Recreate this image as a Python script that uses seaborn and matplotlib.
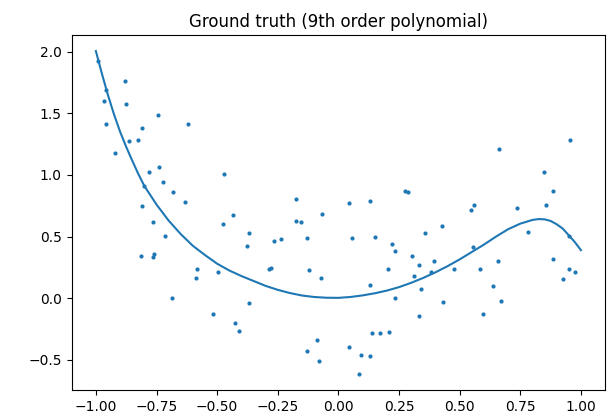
import numpy as np
import pandas as pd
import matplotlib
matplotlib.use("Agg")
import matplotlib.pyplot as plt
import seaborn as sns

# noisy samples
x_pts = [-0.992, -0.879, -0.960, -0.965, -0.874, -0.743, -0.960, -0.621, -0.809, -0.862,
         -0.827, -0.922, -0.780, -0.738, -0.472, -0.800, -0.723, -0.681, -0.634, -0.809,
         -0.766, -0.435, -0.474, -0.713, -0.368, -0.375, -0.813, -0.766, -0.762, -0.582,
         -0.586, -0.497, -0.686, -0.516, -0.426, -0.410, -0.368, 0.276, 0.287, -0.175,
         0.042, 0.132, -0.067, -0.175, -0.155, -0.265, -0.236, -0.128, 0.057, 0.150,
         0.221, 0.232, 0.302, 0.331, -0.285, -0.276, -0.123, -0.071, 0.204, 0.312,
         0.132, 0.232, 0.331, 0.137, 0.171, 0.208, -0.090, -0.128, 0.042, -0.081,
         0.094, 0.132, 0.086, 0.955, 0.661, 0.846, 0.883, 0.856, 0.558, 0.545,
         0.738, 0.426, 0.359, 0.780, 0.952, 0.554, 0.393, 0.657, 0.883, 0.383,
         0.478, 0.582, 0.952, 0.974, 0.926, 0.340, 0.638, 0.430, 0.671, 0.595]
y_pts = [1.925, 1.760, 1.692, 1.600, 1.573, 1.489, 1.414, 1.414, 1.384, 1.273,
         1.281, 1.181, 1.022, 1.067, 1.011, 0.913, 0.946, 0.862, 0.779, 0.751,
         0.619, 0.676, 0.603, 0.508, 0.527, 0.424, 0.341, 0.333, 0.359, 0.238,
         0.162, 0.211, 0.005, -0.125, -0.200, -0.265, -0.041, 0.873, 0.862, 0.805,
         0.770, 0.789, 0.686, 0.629, 0.621, 0.462, 0.481, 0.491, 0.489, 0.500,
         0.443, 0.386, 0.341, 0.268, 0.238, 0.246, 0.230, 0.165, 0.238, 0.181,
         0.108, 0.005, -0.144, -0.284, -0.284, -0.276, -0.341, -0.425, -0.395, -0.509,
         -0.462, -0.470, -0.612, 1.281, 1.208, 1.022, 0.873, 0.759, 0.759, 0.714,
         0.732, 0.584, 0.527, 0.538, 0.508, 0.416, 0.303, 0.303, 0.321, 0.211,
         0.238, 0.238, 0.238, 0.211, 0.154, 0.078, 0.100, -0.032, -0.022, -0.125]

x_curve = [-1.000, -0.975, -0.950, -0.925, -0.900, -0.875, -0.850, -0.825, -0.800, -0.750,
           -0.700, -0.650, -0.600, -0.550, -0.500, -0.450, -0.400, -0.350, -0.300, -0.250,
           -0.200, -0.150, -0.100, -0.050, 0.000, 0.050, 0.100, 0.150, 0.200, 0.250,
           0.300, 0.350, 0.400, 0.450, 0.500, 0.550, 0.600, 0.650, 0.700, 0.750,
           0.800, 0.825, 0.850, 0.875, 0.900, 0.925, 0.950, 0.975, 1.000]
y_curve = [2.005, 1.820, 1.647, 1.490, 1.350, 1.228, 1.116, 1.008, 0.910, 0.760,
           0.630, 0.520, 0.425, 0.350, 0.280, 0.225, 0.180, 0.140, 0.100, 0.068,
           0.042, 0.022, 0.010, 0.004, 0.003, 0.010, 0.023, 0.040, 0.062, 0.090,
           0.125, 0.165, 0.210, 0.260, 0.315, 0.375, 0.435, 0.500, 0.560, 0.605,
           0.635, 0.642, 0.640, 0.627, 0.600, 0.565, 0.510, 0.455, 0.390]

pts = pd.DataFrame({"x": x_pts, "y": y_pts})
curve = pd.DataFrame({"x": x_curve, "y": y_curve})

fig, ax = plt.subplots(figsize=(6.07, 4.16), dpi=100)
fig.subplots_adjust(left=0.118, right=0.997, top=0.916, bottom=0.063)

sns.scatterplot(data=pts, x="x", y="y", s=9, linewidth=0, color="#1f77b4", ax=ax)
sns.lineplot(data=curve, x="x", y="y", color="#1f77b4", linewidth=1.5, ax=ax)

ax.set_xlabel("")
ax.set_ylabel("")
ax.set_title("Ground truth (9th order polynomial)")

fig.savefig("out.png", dpi=100)
